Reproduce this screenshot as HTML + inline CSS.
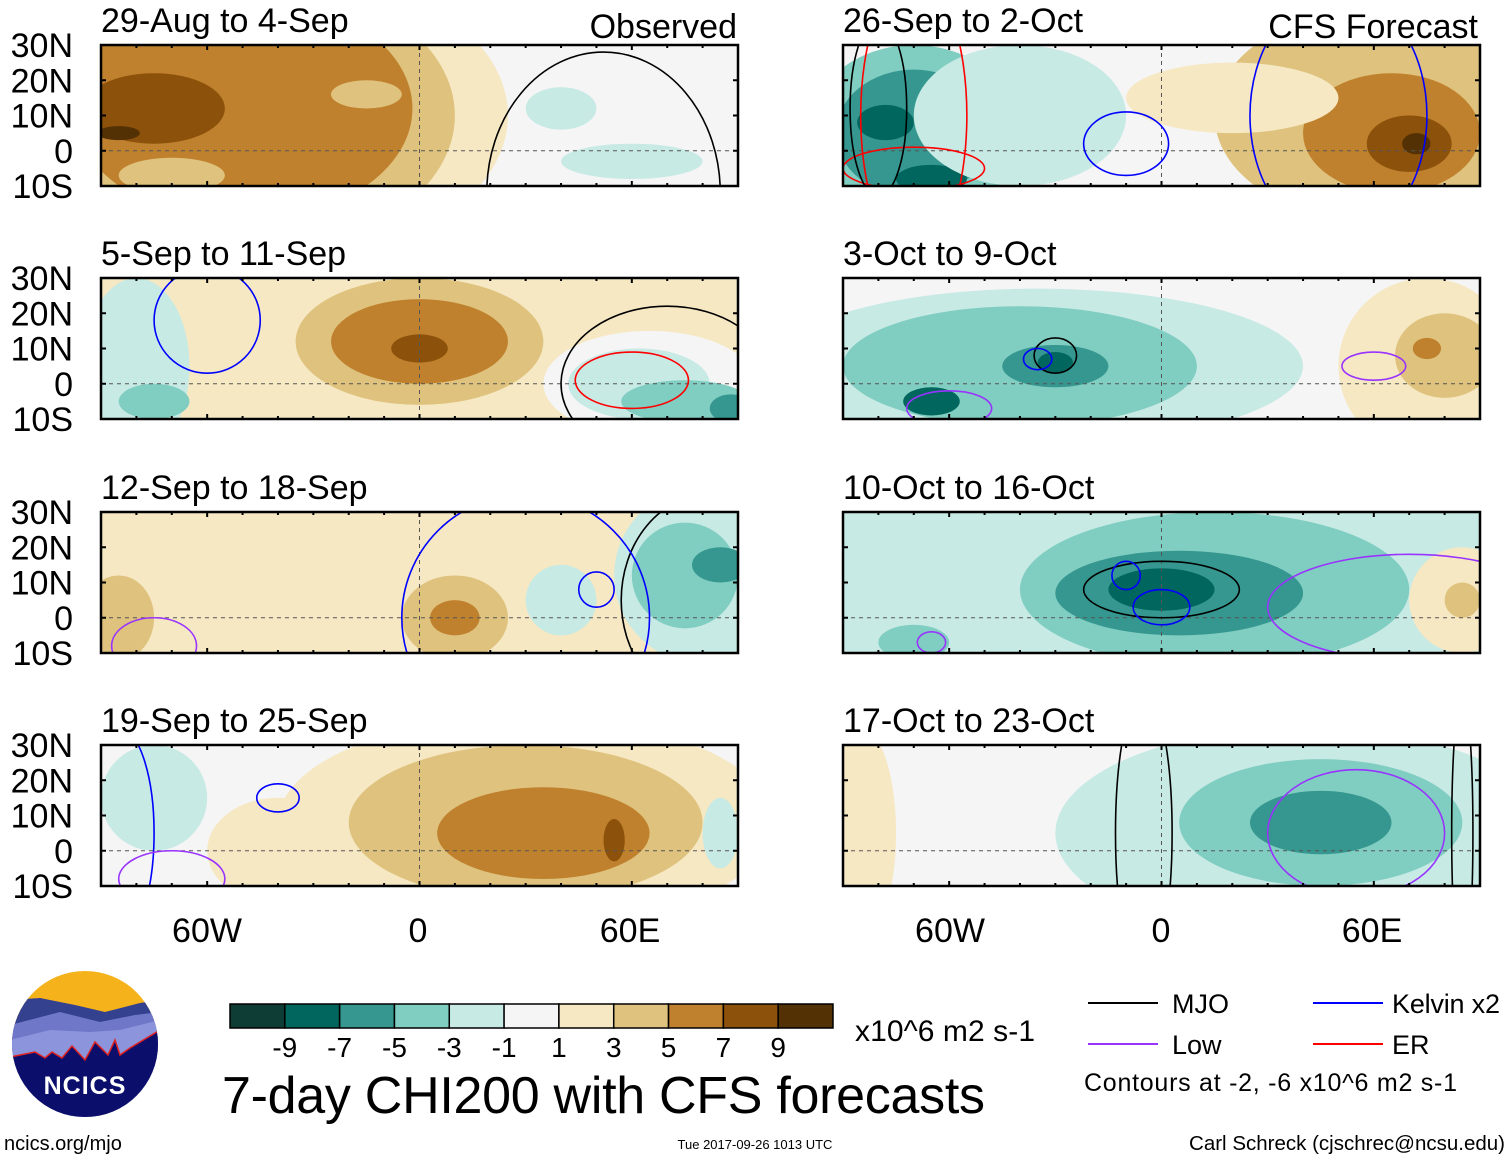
<!DOCTYPE html>
<html><head><meta charset="utf-8">
<style>
html,body{margin:0;padding:0;background:#fff;}
body{width:1510px;height:1159px;position:relative;overflow:hidden;font-family:"Liberation Sans",Arial,sans-serif;}
svg text{font-family:"Liberation Sans",Arial,sans-serif;}
</style></head>
<body>
<svg id="fig" width="1510" height="1159" viewBox="0 0 1510 1159" xmlns="http://www.w3.org/2000/svg">
<defs>
<clipPath id="logoclip"><circle cx="85" cy="1044" r="73"/></clipPath>
</defs>
<g id="panels"></g>
<g id="latlabels"></g>
<g font-size="34" text-anchor="middle">
<text x="207" y="942">60W</text><text x="418" y="942">0</text><text x="630" y="942">60E</text>
<text x="950" y="942">60W</text><text x="1161" y="942">0</text><text x="1372" y="942">60E</text>
</g>
<g clip-path="url(#logoclip)">
<rect x="10" y="970" width="150" height="150" fill="#f5b21a"/>
<path d="M10 1000 L40 998 L75 1005 L105 1012 L140 1003 L160 1000 L160 1120 L10 1120Z" fill="#34418f"/>
<path d="M10 1025 L60 1012 L100 1022 L135 1015 L160 1012 L160 1120 L10 1120Z" fill="#6f78c8"/>
<path d="M10 1040 L50 1030 L90 1032 L120 1030 L160 1020 L160 1120 L10 1120Z" fill="#8c94dc"/>
<path d="M10 1057 L35 1052 L45 1058 L52 1052 L62 1058 L72 1046 L85 1060 L95 1042 L108 1055 L115 1040 L120 1055 L130 1048 L160 1030 L160 1120 L10 1120Z" fill="#0b0f6b" stroke="#e02020" stroke-width="1.5"/>
</g>
<text x="85" y="1094" font-size="25" font-weight="bold" fill="#fff" text-anchor="middle" letter-spacing="1">NCICS</text>
<text x="4" y="1150" font-size="20">ncics.org/mjo</text>
<g id="cbar"></g>
<text x="855" y="1041" font-size="30" textLength="180">x10^6 m2 s-1</text>
<text x="222" y="1113" font-size="52" textLength="763">7-day CHI200 with CFS forecasts</text>
<g font-size="27">
<line x1="1088" y1="1003" x2="1158" y2="1003" stroke="#000" stroke-width="2"/>
<text x="1172" y="1013">MJO</text>
<line x1="1313" y1="1003" x2="1383" y2="1003" stroke="#0000ff" stroke-width="2"/>
<text x="1392" y="1013" textLength="108">Kelvin x2</text>
<line x1="1088" y1="1044" x2="1158" y2="1044" stroke="#9933ff" stroke-width="2"/>
<text x="1172" y="1054">Low</text>
<line x1="1313" y1="1044" x2="1383" y2="1044" stroke="#ff0000" stroke-width="2"/>
<text x="1392" y="1054">ER</text>
<text x="1084" y="1091" font-size="25" textLength="373">Contours at -2, -6 x10^6 m2 s-1</text>
</g>
<text x="755" y="1149" font-size="13" text-anchor="middle">Tue 2017-09-26 1013 UTC</text>
<text x="1505" y="1150" font-size="20.5" text-anchor="end" textLength="316">Carl Schreck (cjschrec@ncsu.edu)</text>
</svg>
<script>
const levels = [-9,-7,-5,-3,-1,1,3,5,7,9];
const bandColors = ["#0e3d36","#01665e","#35978f","#80cdc1","#c7eae5","#f5f5f5","#f6e8c3","#dfc27d","#bf812d","#8c510a","#543005"];
const titles = ["29-Aug to 4-Sep","5-Sep to 11-Sep","12-Sep to 18-Sep","19-Sep to 25-Sep","26-Sep to 2-Oct","3-Oct to 9-Oct","10-Oct to 16-Oct","17-Oct to 23-Oct"];
const titleWidths = [253,253,270,270,245,218,255,255];
const latTicks = ["30N","20N","10N","0","10S"];
// Anomaly blobs per panel: [lon, lat, rxDeg, ryDeg, band]
const blobsP0 = [[-35,10,60,40,6],[-45,10,55,38,7],[-50,12,48,32,8],[-75,12,20,10,9],[-85,5,6,2,10],[-15,16,10,4,7],[-70,-7,15,5,7],[40,12,10,6,4],[60,-3,20,5,4]];
const blobsP1 = [[-80,5,15,25,4],[-75,-5,10,5,3],[0,12,60,25,6],[0,12,35,18,7],[0,12,25,12,8],[0,10,8,4,9],[65,0,30,15,5],[62,0,20,10,4],[75,-5,18,6,3],[88,-7,6,4,2]];
const blobsP2 = [[-30,10,70,25,6],[-85,0,10,12,7],[10,0,15,12,7],[10,0,7,5,8],[80,12,25,25,4],[75,12,15,15,3],[85,15,8,5,2],[40,5,10,10,4]];
const blobsP3 = [[30,8,70,30,6],[30,8,50,22,7],[35,5,30,13,8],[55,3,3,6,9],[-75,15,15,15,4],[85,5,5,10,4],[-40,0,20,15,6]];
const blobsP4 = [[-70,5,30,25,3],[-70,5,22,18,2],[-78,8,8,5,1],[-65,-8,10,4,1],[-40,10,30,20,4],[60,10,45,30,7],[65,5,25,17,8],[70,2,12,8,9],[72,2,4,3,10],[20,15,30,10,6]];
const blobsP5 = [[-35,5,75,22,4],[-40,5,50,17,3],[-30,5,15,6,2],[-65,-5,8,4,1],[-30,6,5,3,1],[75,5,25,25,6],[80,8,14,12,7],[75,10,4,3,8]];
const blobsP6 = [[10,5,100,35,4],[15,8,55,22,3],[5,7,35,12,2],[0,8,15,6,1],[-70,-7,10,5,3],[85,5,15,15,6],[85,5,5,5,7]];
const blobsP7 = [[-85,5,10,30,6],[40,5,70,30,4],[45,8,40,18,3],[45,8,20,9,2]];
const allBlobs = [blobsP0,blobsP1,blobsP2,blobsP3,blobsP4,blobsP5,blobsP6,blobsP7];
const baseBand = [5,6,6,5,5,5,4,5];
// Contour lines per panel: [lon, lat, rxDeg, ryDeg, colorKey]
const linesP0 = [[52,-12,33,40,"k"]];
const linesP1 = [[70,0,30,22,"k"],[60,1,16,8,"r"],[-60,18,15,15,"b"]];
const linesP2 = [[82,5,25,30,"k"],[30,0,35,35,"b"],[50,8,5,5,"b"],[-75,-8,12,8,"p"]];
const linesP3 = [[-85,5,10,30,"b"],[-70,-8,15,8,"p"],[-40,15,6,4,"b"]];
const linesP4 = [[-70,10,15,40,"r"],[-70,-5,20,6,"r"],[-10,2,12,9,"b"],[50,10,25,35,"b"],[-80,12,8,25,"k"]];
const linesP5 = [[-30,8,6,5,"k"],[-35,7,4,3,"b"],[60,5,9,4,"p"],[-60,-7,12,5,"p"]];
const linesP6 = [[0,8,22,8,"k"],[0,3,8,5,"b"],[-10,12,4,4,"b"],[70,3,40,15,"p"],[-65,-7,4,3,"p"]];
const linesP7 = [[-5,5,8,40,"k"],[55,5,25,18,"p"],[85,5,3,40,"k"]];
const allLines = [linesP0,linesP1,linesP2,linesP3,linesP4,linesP5,linesP6,linesP7];
const lineColor = {k:"#000000",b:"#0000ff",r:"#ff0000",p:"#9933ff"};

const NS="http://www.w3.org/2000/svg";
function mk(tag,attrs,parent){const e=document.createElementNS(NS,tag);for(const k in attrs)e.setAttribute(k,attrs[k]);if(parent)parent.appendChild(e);return e;}
const colX=[101,843], rowY=[45,278,512,745], PW=637, PH=141;
const root=document.getElementById('panels');
const defs=document.querySelector('defs');

for(let p=0;p<8;p++){
  const col=p<4?0:1, row=p%4;
  const x0=colX[col], y0=rowY[row];
  const lx=lon=>x0+(lon+90)*PW/180;
  const ly=lat=>y0+(30-lat)*PH/40;
  const sx=d=>d*PW/180, sy=d=>d*PH/40;
  const cp=mk('clipPath',{id:'pc'+p},defs);
  mk('rect',{x:x0,y:y0,width:PW,height:PH},cp);
  const g=mk('g',{},root);
  
  
  const inner=mk('g',{'clip-path':'url(#pc'+p+')'},g);
  mk('rect',{x:x0,y:y0,width:PW,height:PH,fill:bandColors[baseBand[p]]},inner);
  allBlobs[p].forEach(b=>{
    const e=mk('ellipse',{cx:lx(b[0]),cy:ly(b[1]),rx:sx(b[2]),ry:sy(b[3]),fill:bandColors[b[4]]},inner);
    
    
  });
  mk('line',{x1:x0,y1:ly(0),x2:x0+PW,y2:ly(0),stroke:'#555',"stroke-width":1,"stroke-dasharray":"4,4"},inner);
  mk('line',{x1:lx(0),y1:y0,x2:lx(0),y2:y0+PH,stroke:'#555',"stroke-width":1,"stroke-dasharray":"4,4"},inner);
  allLines[p].forEach(l=>{
    const e=mk('ellipse',{cx:lx(l[0]),cy:ly(l[1]),rx:sx(l[2]),ry:sy(l[3]),fill:'none',stroke:lineColor[l[4]],"stroke-width":1.6},inner);
    
    
  });
  mk('rect',{x:x0,y:y0,width:PW,height:PH,fill:'none',stroke:'#000',"stroke-width":2.5},g);
  for(let lon=-90;lon<=90;lon+=10){
    const big=lon%60===0;
    mk('line',{x1:lx(lon),y1:y0,x2:lx(lon),y2:y0+(big?5:3),stroke:'#000',"stroke-width":2},g);
    mk('line',{x1:lx(lon),y1:y0+PH,x2:lx(lon),y2:y0+PH-(big?5:3),stroke:'#000',"stroke-width":2},g);
  }
  for(let lat=-10;lat<=30;lat+=10){
    mk('line',{x1:x0,y1:ly(lat),x2:x0+5,y2:ly(lat),stroke:'#000',"stroke-width":2},g);
    mk('line',{x1:x0+PW,y1:ly(lat),x2:x0+PW-5,y2:ly(lat),stroke:'#000',"stroke-width":2},g);
  }
  const t=mk('text',{x:x0,y:y0-13,"font-size":34},g);
  t.textContent=titles[p];
  
  
}
const h1=mk('text',{x:737,y:38,"font-size":34,"text-anchor":"end"},root);h1.textContent="Observed";


const h2=mk('text',{x:1478,y:38,"font-size":34,"text-anchor":"end"},root);h2.textContent="CFS Forecast";


const ll=document.getElementById('latlabels');
rowY.forEach(y0=>{
  latTicks.forEach((lab,i)=>{
    const t=mk('text',{x:73,y:y0+i*PH/4+12,"font-size":34,"text-anchor":"end"},ll);
    t.textContent=lab;
    
    
  });
});
const cb=document.getElementById('cbar');
const cbx=230, cbw=603/11;
bandColors.forEach((c,i)=>{
  const r=mk('rect',{x:cbx+i*cbw,y:1004,width:cbw,height:24,fill:c,stroke:'#000',"stroke-width":1.5},cb);
  
  
});
levels.forEach((v,i)=>{
  const t=mk('text',{x:cbx+(i+1)*cbw,y:1057,"font-size":28,"text-anchor":"middle"},cb);
  t.textContent=String(v);
  
  
});
</script>
</body></html>
